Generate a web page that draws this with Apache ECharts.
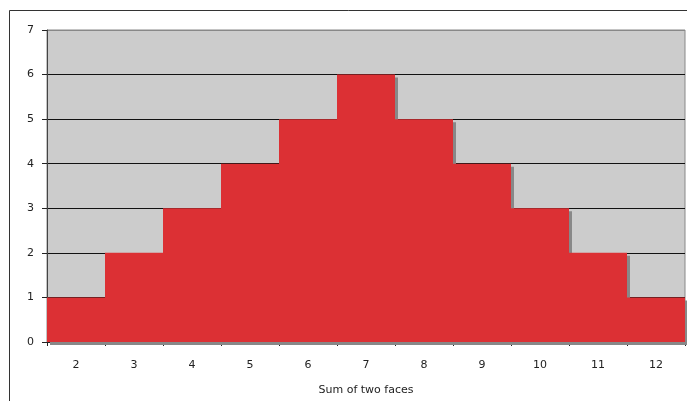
<!DOCTYPE html>
<html>
<head>
<meta charset="utf-8">
<script src="https://cdn.jsdelivr.net/npm/echarts@6/dist/echarts.min.js"></script>
<style>
  html, body { margin: 0; padding: 0; background: #fff; }
  #chart { width: 687px; height: 401px; }
</style>
</head>
<body>
<div id="chart"></div>
<script>
const sums = ['2', '3', '4', '5', '6', '7', '8', '9', '10', '11', '12']
const counts = [1, 2, 3, 4, 5, 6, 5, 4, 3, 2, 1]
const yTicks = [0, 1, 2, 3, 4, 5, 6, 7]

const chart = echarts.init(document.getElementById('chart'))

chart.setOption({
  animation: false,
  textStyle: { fontFamily: 'DejaVu Sans', color: '#222' },
  graphic: [{
    type: 'rect',
    shape: { x: 9.5, y: 10.5, width: 700, height: 420 },
    style: { fill: 'none', stroke: '#333', lineWidth: 1 },
    silent: true
  }],
  grid: {
    left: 47, right: 2, top: 30, bottom: 59,
    show: true,
    backgroundColor: '#cccccc',
    borderColor: '#888888',
    borderWidth: 1
  },
  xAxis: {
    type: 'category',
    data: sums,
    name: 'Sum of two faces',
    nameLocation: 'middle',
    nameGap: 43,
    nameTextStyle: { fontSize: 11, color: '#222' },
    axisLine: { lineStyle: { color: '#222', width: 1 } },
    axisTick: { show: true, length: 4, lineStyle: { color: '#222' } },
    axisLabel: { fontSize: 11, color: '#222', margin: 18 }
  },
  yAxis: {
    type: 'value',
    min: yTicks[0],
    max: yTicks[yTicks.length - 1],
    interval: 1,
    axisLine: { show: true, lineStyle: { color: '#444', width: 1 } },
    axisTick: { show: true, length: 5, lineStyle: { color: '#222' } },
    axisLabel: { fontSize: 11, color: '#222', margin: 13 },
    splitLine: {
      show: true,
      lineStyle: { color: ['#111', '#111', '#111', '#111', '#111', '#111', '#111', '#888'], width: 1 }
    }
  },
  series: [{
    type: 'bar',
    data: counts,
    barCategoryGap: '0%',
    itemStyle: {
      color: '#dc3034',
      shadowColor: '#888888',
      shadowOffsetX: 3,
      shadowOffsetY: 3,
      shadowBlur: 0
    }
  }]
})
</script>
</body>
</html>
